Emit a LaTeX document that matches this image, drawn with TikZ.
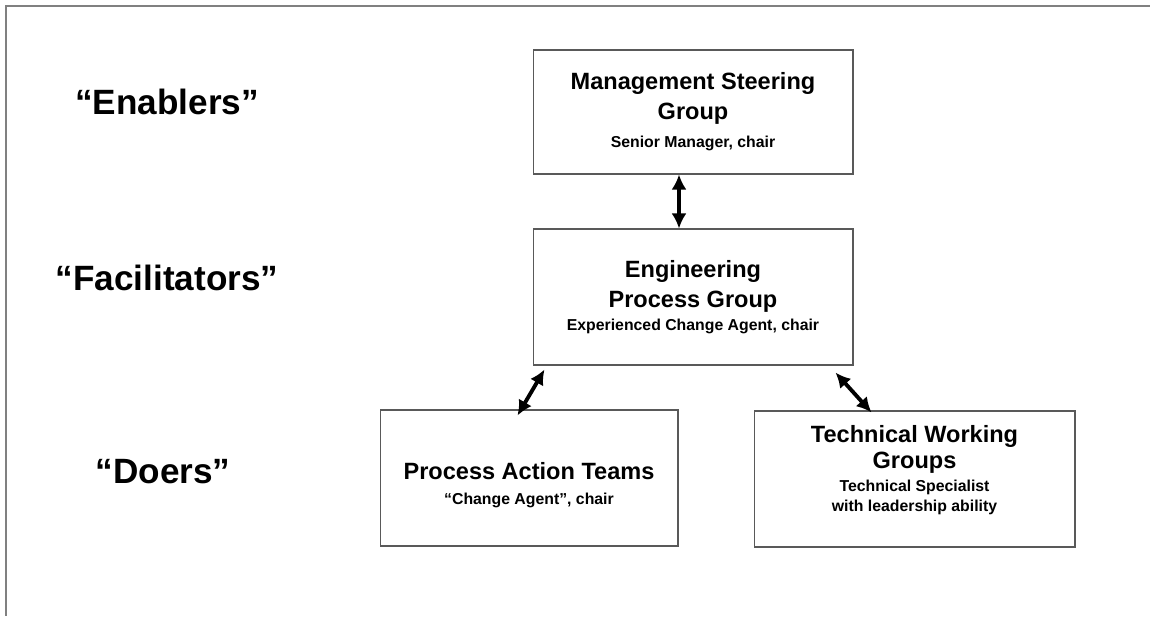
\documentclass[tikz,border=0pt]{standalone}
\usepackage{fontspec}
\setmainfont{Liberation Sans}
\usetikzlibrary{positioning,calc,arrows.meta}

\newcommand{\bigtxt}{\fontsize{13.4}{17}\selectfont\bfseries}
\newcommand{\smalltxt}{\fontsize{9}{10.5}\selectfont\bfseries}

\begin{document}
\begin{tikzpicture}[
    x=0.02cm, y=-0.02cm,
    box/.style={draw=black!65, line width=0.6pt, align=center, inner sep=0pt, font=\bigtxt},
    boxtxt/.style={align=center, inner sep=0pt, font=\bigtxt},
    tier/.style={font=\fontsize{20}{24}\selectfont\bfseries},
    arr/.style={line width=2.2pt, {Latex[length=0.3cm,width=0.3cm]}-{Latex[length=0.3cm,width=0.3cm]}},
    frame/.style={draw=black!50, line width=0.9pt}
]
\useasboundingbox (0,0) rectangle (1150,616);

% page edge
\draw[frame] (1150,6) -- (6,6) -- (6,616);

% tiers
\node[tier] (enablers) at (167,102) {“Enablers”};
\node[tier] (facil) at (167,278) {“Facilitators”};
\node[tier] (doers) at (163,472) {“Doers”};

% groups
\node[box, minimum width=6.4cm, minimum height=2.48cm] (msg) at (693,112)
    {Management Steering\\ Group\\[-1pt] \smalltxt Senior Manager, chair};
\node[box, minimum width=6.4cm, minimum height=2.72cm] (epg) at (693,297)
    {Engineering\\ Process Group\\[-4pt] \smalltxt Experienced Change Agent, chair};
\node[box, minimum width=5.96cm, minimum height=2.72cm] (pat) at (529,478) {};
\node[boxtxt] (pattxt) at ($(pat.center)+(0,7)$)
    {Process Action Teams\\[-3pt] \smalltxt “Change Agent”, chair};
\node[box, minimum width=6.42cm, minimum height=2.72cm] (twg) at (914.5,479) {};
\node[boxtxt] (twgtxt) at ($(twg.center)+(0,-9)$)
    {Technical Working\\[-2pt] Groups\\[-4pt] \smalltxt Technical Specialist\\[-6pt] \smalltxt with leadership ability};

% links
\draw[arr] ([xshift=-0.28cm]msg.south) -- ([xshift=-0.28cm]epg.north);
\draw[arr] ($(epg.south west)+(12,4)$) -- ($(pat.north west)+(138,6)$);
\draw[arr] ($(epg.south east)+(-18,7)$) -- ($(twg.north west)+(118,2)$);

\end{tikzpicture}
\end{document}
